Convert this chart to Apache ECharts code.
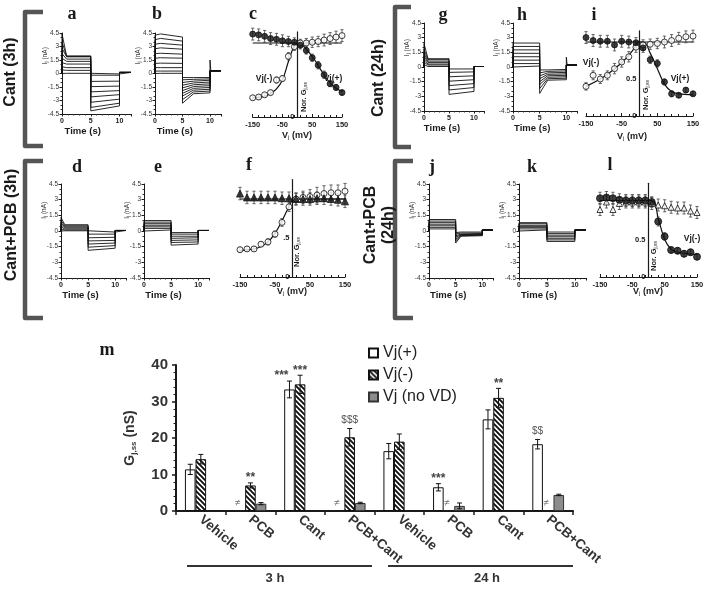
<!DOCTYPE html>
<html><head><meta charset="utf-8">
<script src="https://cdn.jsdelivr.net/npm/echarts@6/dist/echarts.min.js"></script>
<style>html,body{margin:0;padding:0;background:#fff}#c{width:708px;height:589px}</style>
</head><body><div id="c"></div>
<script>
// ================= DATA =================
// ---- panel m (bar chart) ----
const mCategories = ['Vehicle','PCB','Cant','PCB+Cant','Vehicle','PCB','Cant','PCB+Cant'];
const mGroups = ['3 h','24 h'];
const mVjPlus      = [11.4, null, 33.3, null, 16.4, 6.5, 25.1, 18.3];
const mVjPlusErr   = [1.4, 0, 2.3, 0, 2.1, 1.0, 2.6, 1.3];
const mVjPlusMark  = ['', '≠', '***', '≠', '', '***', '', '$$'];
const mVjMinus     = [14.2, 7.0, 34.7, 20.2, 19.0, null, 31.0, null];
const mVjMinusErr  = [1.3, 0.7, 2.5, 2.4, 2.1, 0, 2.6, 0];
const mVjMinusMark = ['', '**', '***', '$$$', '', '≠', '**', '≠'];
const mNoVD        = [null, 2.0, null, 2.2, null, 1.4, null, 4.4];
const mNoVDErr     = [0, 0.3, 0, 0.2, 0, 0.8, 0, 0.2];
const mNoVDMark    = ['', '', '', '', '', '', '', ''];

// ---- current traces (nA) ----
const aPeak = [4.4, 3.5, 2.8, 2.2, 1.7, 1.2, 0.75, 0.4, 0.05];
const aStep1 = [1.95, 1.9, 1.85, 1.6, 1.35, 1.05, 0.65, 0.35, 0.02];
const aStep2Start = [-4.15, -3.77, -3.2, -2.6, -2.04, -1.46, -0.88, -0.19, -0.05];
const aStep2End = [-3.6, -3.3, -2.85, -2.35, -1.9, -1.4, -0.85, -0.19, -0.05];
const aTail = 0.12;

const bStart = [4.25, 3.75, 3.25, 2.75, 2.2, 1.7, 1.12, 0.65, 0.27, 0.02];
const bPeak = [4.4, 3.9, 3.35, 2.85, 2.25, 1.75, 1.15, 0.65, 0.27, 0.02];
const bEnd = [4.05, 3.6, 3.15, 2.7, 2.15, 1.7, 1.12, 0.65, 0.27, 0.02];
const bStep2Start = [-3.3, -2.9, -2.5, -2.2, -1.9, -1.6, -1.3, -1.0, -0.7, -0.45];
const bStep2Mid = [-2.25, -2.05, -1.85, -1.65, -1.45, -1.25, -1.05, -0.85, -0.65, -0.45];
const bStep2End = [-2.15, -1.95, -1.75, -1.55, -1.35, -1.15, -0.95, -0.75, -0.6, -0.45];
const bTail = 0.3;
const bSpike = 1.5;

const dPeak = [1.3, 1.0, 0.8, 0.6, 0.4, 0.2, 0.05];
const dStep1 = [0.6, 0.5, 0.4, 0.3, 0.2, 0.1, 0.02];
const dStep2Start = [-1.85, -1.55, -1.25, -0.95, -0.65, -0.3, -0.1];
const dStep2End = [-1.65, -1.4, -1.15, -0.9, -0.6, -0.3, -0.1];
const dTail = 0.05;

const eStep1 = [1.0, 0.85, 0.7, 0.55, 0.4, 0.25, 0.1];
const eStep2 = [-1.35, -1.1, -0.9, -0.7, -0.5, -0.3, -0.15];
const eStep2End = [-1.25, -1.05, -0.85, -0.65, -0.5, -0.3, -0.15];
const eTail = 0.05;

const gPeak = [2.4, 1.8, 1.4, 1.1, 0.8, 0.5, 0.25];
const gStep1 = [0.85, 0.75, 0.6, 0.45, 0.3, 0.2, 0.05];
const gStep2Start = [-2.8, -2.35, -1.9, -1.45, -1.0, -0.55, -0.2];
const gStep2End = [-2.5, -2.1, -1.7, -1.3, -0.9, -0.5, -0.2];
const gTail = 0.05;

const hStep1 = [2.45, 2.1, 1.75, 1.4, 1.05, 0.7, 0.35, 0.1];
const hStep2Start = [-2.7, -2.2, -1.8, -1.5, -1.2, -0.9, -0.6, -0.3];
const hStep2Mid = [-1.35, -1.2, -1.05, -0.9, -0.75, -0.6, -0.45, -0.3];
const hStep2End = [-1.3, -1.15, -1.0, -0.85, -0.7, -0.55, -0.4, -0.25];
const hTail = 0.2;
const hSpike = 1.0;

const jStep1 = [1.1, 0.95, 0.8, 0.65, 0.5, 0.35, 0.2];
const jStep2Start = [-1.15, -0.95, -0.8, -0.6, -0.45, -0.3, -0.15];
const jStep2Mid = [-0.5, -0.45, -0.4, -0.35, -0.3, -0.2, -0.1];
const jStep2End = [-0.45, -0.4, -0.35, -0.3, -0.25, -0.2, -0.1];
const jTail = 0.1;

const kStep1 = [0.8, 0.7, 0.55, 0.45, 0.35, 0.2, 0.1];
const kStep2 = [-1.0, -0.85, -0.7, -0.55, -0.4, -0.25, -0.1];
const kTail = 0.1;

// ---- normalized conductance vs Vj ----
const vj = [-150,-130,-110,-90,-70,-50,-30,-10,10,30,50,70,90,110,130,150];
const cOpen   = [0.26,0.27,0.30,0.33,0.50,0.52,0.82,0.95,1.0,1.0,1.01,1.02,1.04,1.06,1.08,1.1];
const cOpenErr = [0.03,0.03,0.03,0.03,0.04,0.04,0.05,0.05,0.05,0.06,0.07,0.07,0.08,0.08,0.08,0.08];
const cFilled = [1.12,1.11,1.09,1.06,1.05,1.03,1.02,1.01,0.97,0.9,0.8,0.7,0.57,0.45,0.4,0.33];
const cFilledErr = [0.08,0.08,0.08,0.08,0.08,0.08,0.07,0.06,0.05,0.05,0.05,0.05,0.05,0.04,0.04,0.03];
const cOpenFitX = [-150,-110,-90,-70,-50,-30,-10,0,150];
const cOpenFitY = [0.26,0.28,0.32,0.38,0.5,0.75,0.97,1,1];
const cFilledFitX = [-150,0,20,40,60,80,100,120,150];
const cFilledFitY = [1,1,0.96,0.87,0.76,0.63,0.51,0.42,0.34];
const cTickVals = [0];
const cTickText = ['0'];

const iOpen   = [0.40,0.55,0.50,0.55,0.64,0.73,0.80,0.93,0.96,0.97,0.98,1.0,1.02,1.05,1.07,1.08];
const iOpenErr = [0.05,0.06,0.06,0.06,0.07,0.07,0.07,0.07,0.07,0.07,0.07,0.08,0.08,0.08,0.08,0.08];
const iFilled = [1.06,1.02,1.01,1.01,0.96,1.01,1.0,0.99,0.92,0.76,0.71,0.46,0.30,0.28,0.35,0.30];
const iFilledErr = [0.08,0.08,0.08,0.08,0.08,0.08,0.08,0.07,0.06,0.05,0.05,0.04,0.04,0.03,0.03,0.03];
const iOpenFitX = [-150,-100,-50,-20,0,150];
const iOpenFitY = [0.4,0.53,0.72,0.88,1,1];
const iFilledFitX = [-150,10,30,50,70,90,110,150];
const iFilledFitY = [1,1,0.85,0.64,0.43,0.33,0.3,0.29];
const iTickVals = [0, 0.5];
const iTickText = ['0', '0.5'];

const fOpen = [0.35,0.36,0.36,0.42,0.45,0.55,0.70,0.90,1.0,1.02,1.03,1.05,1.07,1.08,1.08,1.1];
const fOpenErr = [0.03,0.03,0.03,0.03,0.04,0.04,0.05,0.06,0.07,0.08,0.09,0.1,0.1,0.1,0.1,0.1];
const fTri = [1.07,1.02,1.02,1.02,1.02,1.02,1.01,1.01,1.0,1.0,1.0,1.01,1.01,1.0,0.99,0.97];
const fTriErr = [0.08,0.08,0.08,0.08,0.08,0.08,0.08,0.08,0.08,0.08,0.08,0.08,0.08,0.08,0.08,0.08];
const fOpenFitX = [-150,-110,-90,-70,-50,-30,-10,5,150];
const fOpenFitY = [0.34,0.36,0.39,0.45,0.56,0.72,0.9,1,1];
const fTriFitX = [-150,150];
const fTriFitY = [1,1];
const fTickVals = [0, 0.5];
const fTickText = ['0', '.5'];

const lFilled = [1.05,1.06,1.05,1.03,1.02,1.02,1.02,1.02,1.0,0.74,0.54,0.36,0.35,0.31,0.33,0.27];
const lFilledErr = [0.08,0.08,0.08,0.08,0.08,0.08,0.08,0.08,0.07,0.06,0.05,0.04,0.04,0.04,0.04,0.04];
const lTri = [0.9,1.0,0.9,0.98,1.0,1.0,1.0,1.0,0.98,0.96,0.95,0.93,0.92,0.92,0.88,0.86];
const lTriErr = [0.08,0.08,0.08,0.08,0.08,0.08,0.08,0.08,0.08,0.08,0.08,0.08,0.08,0.08,0.08,0.08];
const lFilledFitX = [-150,10,30,50,70,90,150];
const lFilledFitY = [1.02,1.02,0.78,0.5,0.37,0.33,0.3];
const lTickVals = [0, 0.5];
const lTickText = ['0', '0.5'];

// ================= BUILD =================
const FONT = '"Liberation Sans", Arial, sans-serif';
const SERIF = '"Liberation Serif", "Times New Roman", serif';
const INK = '#1a1a1a';

const grids = [], xAxes = [], yAxes = [], series = [], gfx = [];

function addGrid(rect, xo, yo) {
  const gi = grids.length;
  grids.push({left: rect[0], top: rect[1], width: rect[2], height: rect[3]});
  xAxes.push(Object.assign({gridIndex: gi}, xo));
  yAxes.push(Object.assign({gridIndex: gi}, yo));
  return gi;
}

function text(x, y, str, font, opts) {
  gfx.push(Object.assign({type: 'text', x: x, y: y, silent: true, z: 50,
    style: Object.assign({text: str, font: font, fill: INK, align: 'center', verticalAlign: 'middle'}, (opts && opts.style) || {})},
    opts && opts.rotation !== undefined ? {rotation: opts.rotation} : {}));
}

// ---- current panels ----
function currentAxes() {
  return [
    {type: 'value', min: 0, max: 12, interval: 5,
      axisLine: {show: true, onZero: false, lineStyle: {color: INK, width: 1}},
      axisTick: {show: true, length: 2.5, lineStyle: {color: INK}},
      minorTick: {show: true, splitNumber: 5, length: 1.5, lineStyle: {color: '#333'}},
      axisLabel: {fontSize: 7, fontWeight: 'bold', color: INK, fontFamily: FONT, margin: 4, showMaxLabel: false,
        formatter: v => (v > 11 ? '' : String(v))},
      splitLine: {show: false}},
    {type: 'value', min: -4.5, max: 4.5, interval: 1.5,
      axisLine: {show: true, onZero: false, lineStyle: {color: INK, width: 1}},
      axisTick: {show: true, length: 2.5, lineStyle: {color: INK}},
      minorTick: {show: true, splitNumber: 3, length: 1.5, lineStyle: {color: '#333'}},
      axisLabel: {fontSize: 6.5, color: '#333', fontFamily: FONT, margin: 3,
        formatter: v => String(Math.round(v * 10) / 10)},
      splitLine: {show: false}}
  ];
}
function buildTraces(times, cols) {
  let n = 0;
  cols.forEach(c => { if (Array.isArray(c)) n = Math.max(n, c.length); });
  const out = [];
  for (let k = 0; k < n; k++) out.push(times.map((t, j) => [t, Array.isArray(cols[j]) ? cols[j][k] : cols[j]]));
  return out;
}
function currentPanel(rect, traces, extra) {
  const ax = currentAxes();
  const gi = addGrid(rect, ax[0], ax[1]);
  traces.forEach(tr => series.push({type: 'line', xAxisIndex: gi, yAxisIndex: gi, data: tr, showSymbol: false,
    silent: true, lineStyle: {color: '#111', width: 0.9}, z: 2}));
  if (extra) series.push({type: 'line', xAxisIndex: gi, yAxisIndex: gi, data: extra, showSymbol: false,
    silent: true, lineStyle: {color: '#111', width: 0.9}, z: 2});
  gfx.push({type: 'text', x: rect[0] - 17, y: rect[1] + rect[3] * 0.28, rotation: Math.PI / 2, silent: true, z: 50,
    style: {text: '{a|I}{b|j}{a| (nA)}', align: 'center', verticalAlign: 'middle', fill: '#333',
      rich: {a: {fontSize: 6.5, fontFamily: FONT, fill: '#333'}, b: {fontSize: 5, fontFamily: FONT, fill: '#333', padding: [3, 0, 0, 0]}}}});
  text(rect[0] + rect[2] * 0.3, rect[1] + rect[3] + 17, 'Time (s)', 'bold 9.5px ' + FONT);
  return gi;
}

const R = {
  a: [62, 33, 69, 81], b: [155, 33, 66, 81], g: [424, 23, 60, 88], h: [513, 23, 64, 88],
  d: [61, 184, 65, 94], e: [144, 184, 65, 94], j: [429, 184, 64, 94], k: [519, 184, 67, 94],
  c: [252.7, 31.9, 89.3, 85.1], i: [586, 30.9, 107, 85.1], f: [240, 179.5, 105, 97.5], l: [600, 183.25, 97, 93.75],
  m: [176, 365, 397, 146]
};

currentPanel(R.a, buildTraces([0, 0, 0.8, 5, 5, 10, 10, 12], [0, aPeak, aStep1, aStep1, aStep2Start, aStep2End, aTail, aTail]));
currentPanel(R.b, buildTraces([0, 0, 1, 5, 5, 7, 10, 10, 12], [0, bStart, bPeak, bEnd, bStep2Start, bStep2Mid, bStep2End, bTail, bTail]),
  [[10, bTail], [10, bSpike], [10.15, bTail]]);
currentPanel(R.d, buildTraces([0, 0, 0.7, 5, 5, 10, 10, 12], [0, dPeak, dStep1, dStep1, dStep2Start, dStep2End, dTail, dTail]));
currentPanel(R.e, buildTraces([0, 0, 5, 5, 10, 10, 12], [0, eStep1, eStep1, eStep2, eStep2End, eTail, eTail]));
currentPanel(R.g, buildTraces([0, 0, 0.8, 5, 5, 10, 10, 12], [0, gPeak, gStep1, gStep1, gStep2Start, gStep2End, gTail, gTail]));
currentPanel(R.h, buildTraces([0, 0, 5, 5, 6.5, 10, 10, 12], [0, hStep1, hStep1, hStep2Start, hStep2Mid, hStep2End, hTail, hTail]),
  [[10, hTail], [10, hSpike], [10.15, hTail]]);
currentPanel(R.j, buildTraces([0, 0, 5, 5, 6, 10, 10, 12], [0, jStep1, jStep1, jStep2Start, jStep2Mid, jStep2End, jTail, jTail]));
currentPanel(R.k, buildTraces([0, 0, 5, 5, 10, 10, 12], [0, kStep1, kStep1, kStep2, kStep2, kTail, kTail]));

// ---- conductance panels ----
function errBars(gi, xs, ys, es) {
  return {type: 'custom', xAxisIndex: gi, yAxisIndex: gi, silent: true, z: 3,
    data: xs.map((x, i) => [x, ys[i], es[i]]),
    renderItem: (p, api) => {
      const x = api.value(0), y = api.value(1), e = api.value(2);
      const t = api.coord([x, y + e]), b = api.coord([x, y - e]);
      const st = {stroke: '#444', lineWidth: 0.8};
      return {type: 'group', children: [
        {type: 'line', shape: {x1: t[0], y1: t[1], x2: b[0], y2: b[1]}, style: st},
        {type: 'line', shape: {x1: t[0] - 1.6, y1: t[1], x2: t[0] + 1.6, y2: t[1]}, style: st},
        {type: 'line', shape: {x1: b[0] - 1.6, y1: b[1], x2: b[0] + 1.6, y2: b[1]}, style: st}
      ]};
    }};
}
function tickLabels(gi, vals, texts) {
  return {type: 'custom', xAxisIndex: gi, yAxisIndex: gi, silent: true, z: 5,
    data: vals.map(v => [0, v]),
    renderItem: (p, api) => {
      const pt = api.coord([api.value(0), api.value(1)]);
      return {type: 'text', x: pt[0] - 3, y: pt[1], style: {text: texts[p.dataIndex],
        font: 'bold 7.5px ' + FONT, fill: INK, align: 'right', verticalAlign: 'middle'}};
    }};
}
function condPanel(rect, ymax, tickVals, tickText, sets, fits) {
  const gi = addGrid(rect,
    {type: 'value', min: -150, max: 150, interval: 100,
      axisLine: {show: true, onZero: false, lineStyle: {color: INK, width: 1.2}},
      axisTick: {show: true, inside: true, length: 3, lineStyle: {color: INK}},
      minorTick: {show: true, splitNumber: 5, length: 2, lineStyle: {color: INK}},
      axisLabel: {fontSize: 7.5, fontWeight: 'bold', color: INK, fontFamily: FONT, margin: 4},
      splitLine: {show: false}},
    {type: 'value', min: 0, max: ymax, interval: 0.5,
      axisLine: {show: true, onZero: true, lineStyle: {color: INK, width: 1.2}},
      axisTick: {show: false},
      axisLabel: {show: false},
      splitLine: {show: false}});
  series.push(tickLabels(gi, tickVals, tickText));
  fits.forEach(f => series.push({type: 'line', xAxisIndex: gi, yAxisIndex: gi, silent: true, showSymbol: false,
    smooth: 0.35, data: f[0].map((x, i) => [x, f[1][i]]), lineStyle: {color: '#111', width: 1.2}, z: 2}));
  sets.forEach(s => {
    series.push(errBars(gi, vj, s.y, s.e));
    series.push({type: 'scatter', xAxisIndex: gi, yAxisIndex: gi, silent: true, z: 4,
      symbol: s.symbol, symbolSize: s.size || 6, data: vj.map((x, i) => [x, s.y[i]]),
      itemStyle: {color: s.fill, borderColor: '#111', borderWidth: 1}});
  });
  return gi;
}

condPanel(R.c, 1.15, cTickVals, cTickText,
  [{y: cOpen, e: cOpenErr, symbol: 'circle', fill: '#fff'}, {y: cFilled, e: cFilledErr, symbol: 'circle', fill: '#111'}],
  [[cOpenFitX, cOpenFitY], [cFilledFitX, cFilledFitY]]);
condPanel(R.i, 1.15, iTickVals, iTickText,
  [{y: iOpen, e: iOpenErr, symbol: 'circle', fill: '#fff'}, {y: iFilled, e: iFilledErr, symbol: 'circle', fill: '#111'}],
  [[iOpenFitX, iOpenFitY], [iFilledFitX, iFilledFitY]]);
condPanel(R.f, 1.25, fTickVals, fTickText,
  [{y: fOpen, e: fOpenErr, symbol: 'circle', fill: '#fff'}, {y: fTri, e: fTriErr, symbol: 'triangle', fill: '#111', size: 7}],
  [[fOpenFitX, fOpenFitY], [fTriFitX, fTriFitY]]);
condPanel(R.l, 1.25, lTickVals, lTickText,
  [{y: lTri, e: lTriErr, symbol: 'triangle', fill: '#fff', size: 6}, {y: lFilled, e: lFilledErr, symbol: 'circle', fill: '#111', size: 7}],
  [[lFilledFitX, lFilledFitY]]);

function norG(x, y) {
  gfx.push({type: 'text', x: x, y: y, rotation: Math.PI / 2, silent: true, z: 50,
    style: {text: '{a|Nor. G}{b|j,ss}', align: 'center', verticalAlign: 'middle',
      rich: {a: {fontSize: 7.5, fontWeight: 'bold', fontFamily: FONT, fill: INK},
             b: {fontSize: 5, fontFamily: FONT, fill: INK, padding: [3, 0, 0, 0]}}}});
}
function vjLabel(x, y) {
  gfx.push({type: 'text', x: x, y: y, silent: true, z: 50,
    style: {text: '{a|V}{b|j}{a| (mV)}', align: 'center', verticalAlign: 'middle',
      rich: {a: {fontSize: 9, fontWeight: 'bold', fontFamily: FONT, fill: INK},
             b: {fontSize: 6, fontFamily: FONT, fill: INK, padding: [3, 0, 0, 0]}}}});
}
norG(304, 97); norG(646, 95); norG(297, 252); norG(654, 256);
vjLabel(297, 136); vjLabel(632, 137); vjLabel(292, 292); vjLabel(648, 292);
text(264, 79, 'Vj(-)', 'bold 8.5px ' + FONT);
text(333, 79, 'Vj(+)', 'bold 8.5px ' + FONT);
text(591, 63, 'Vj(-)', 'bold 8.5px ' + FONT);
text(680, 79, 'Vj(+)', 'bold 8.5px ' + FONT);
text(692, 239, 'Vj(-)', 'bold 8.5px ' + FONT);

// ---- panel letters and row labels ----
[['a', 72, 14], ['b', 157, 14], ['c', 253, 14], ['g', 443, 15], ['h', 522, 15], ['i', 594, 15],
 ['d', 77, 167], ['e', 158, 167], ['f', 249, 165], ['j', 432, 167], ['k', 532, 167], ['l', 610, 165], ['m', 107, 350]]
  .forEach(t => text(t[1], t[2], t[0], 'bold 18px ' + SERIF));

function bracket(x, y1, y2, x2) {
  gfx.push({type: 'polyline', silent: true, z: 40,
    shape: {points: [[x2, y1], [x, y1], [x, y2], [x2, y2]]},
    style: {stroke: '#555', lineWidth: 4.5, fill: null, lineJoin: 'round'}});
}
bracket(25, 12, 146, 43); bracket(395, 7, 147, 411);
bracket(25, 161, 318, 43); bracket(395, 161, 318, 413);
const rowFont = 'bold 16px ' + FONT;
text(11, 72, 'Cant (3h)', rowFont, {rotation: Math.PI / 2});
text(379, 78, 'Cant (24h)', rowFont, {rotation: Math.PI / 2});
text(12, 225, 'Cant+PCB (3h)', rowFont, {rotation: Math.PI / 2});
text(371, 225, 'Cant+PCB', rowFont, {rotation: Math.PI / 2});
text(389, 225, '(24h)', rowFont, {rotation: Math.PI / 2});

// ---- panel m ----
const hatch = document.createElement('canvas');
hatch.width = 5; hatch.height = 5;
(function () {
  const c = hatch.getContext('2d');
  c.fillStyle = '#fff'; c.fillRect(0, 0, 5, 5);
  c.strokeStyle = '#111'; c.lineWidth = 1.9; c.beginPath();
  c.moveTo(-1, -1); c.lineTo(6, 6); c.moveTo(-1, 4); c.lineTo(1, 6); c.moveTo(4, -1); c.lineTo(6, 1);
  c.stroke();
})();

const M = addGrid(R.m,
  {type: 'category', data: mCategories, boundaryGap: true,
    axisLine: {show: true, lineStyle: {color: INK, width: 2}},
    axisTick: {show: true, alignWithLabel: false, length: 4, lineStyle: {color: INK, width: 1.5}},
    axisLabel: {interval: 0, rotate: -40, fontSize: 13.5, fontWeight: 'bold', color: '#333', fontFamily: FONT, margin: 7}},
  {type: 'value', min: 0, max: 40, interval: 10,
    name: '{a|G}{b|j,ss}{a| (nS)}', nameLocation: 'middle', nameGap: 38,
    nameTextStyle: {rich: {a: {fontSize: 14, fontWeight: 'bold', fontFamily: FONT, color: '#333'},
                           b: {fontSize: 8, fontWeight: 'bold', fontFamily: FONT, color: '#333', padding: [7, 0, 0, 0]}}},
    axisLine: {show: true, lineStyle: {color: INK, width: 2}},
    axisTick: {show: true, length: 4, lineStyle: {color: INK, width: 1.5}},
    minorTick: {show: true, splitNumber: 5, length: 2.5, lineStyle: {color: INK}},
    axisLabel: {fontSize: 15, fontWeight: 'bold', color: '#333', fontFamily: FONT, margin: 8},
    splitLine: {show: false}});

const barBase = {type: 'bar', xAxisIndex: M, yAxisIndex: M, barGap: '0%', barCategoryGap: '36%', z: 2, silent: true};
series.push(Object.assign({}, barBase, {name: 'Vj(+)', data: mVjPlus, itemStyle: {color: '#fff', borderColor: '#111', borderWidth: 1}}));
series.push(Object.assign({}, barBase, {name: 'Vj(-)', data: mVjMinus, itemStyle: {color: {image: hatch, repeat: 'repeat'}, borderColor: '#111', borderWidth: 1}}));
series.push(Object.assign({}, barBase, {name: 'Vj (no VD)', data: mNoVD, itemStyle: {color: '#8c8c8c', borderColor: '#333', borderWidth: 1}}));

function mAnnot(k, vals, errs, marks, other) {
  return {type: 'custom', xAxisIndex: M, yAxisIndex: M, z: 6, silent: true,
    data: vals.map((v, i) => [i, v == null ? 0 : v, errs[i]]),
    renderItem: (p, api) => {
      const i = api.value(0), v = api.value(1), e = api.value(2);
      const mk = marks[p.dataIndex];
      const base = api.coord([i, 0]);
      const bw = api.size([1, 0])[0] * 0.64 / 3;
      let x = base[0] + (k - 1) * bw;
      const ch = [];
      const st = {stroke: '#111', lineWidth: 1};
      const top = api.coord([i, v + e])[1];
      if (e > 0) {
        const bot = api.coord([i, v - e])[1];
        ch.push({type: 'line', shape: {x1: x, y1: top, x2: x, y2: bot}, style: st});
        ch.push({type: 'line', shape: {x1: x - 2.5, y1: top, x2: x + 2.5, y2: top}, style: st});
        ch.push({type: 'line', shape: {x1: x - 2.5, y1: bot, x2: x + 2.5, y2: bot}, style: st});
      }
      if (mk) {
        if (mk === '≠') {
          ch.push({type: 'text', x: x - 2, y: base[1] - 8, style: {text: '≠', font: 'italic 10px ' + FONT, fill: '#666', align: 'center', verticalAlign: 'middle'}});
        } else if (mk[0] === '*') {
          if (other && other[p.dataIndex] && other[p.dataIndex][0] === '*') x -= 8;
          ch.push({type: 'text', x: x, y: top - 5, style: {text: mk, font: 'bold 12px ' + FONT, fill: '#444', align: 'center', verticalAlign: 'middle'}});
        } else {
          ch.push({type: 'text', x: x, y: top - 8, style: {text: mk, font: '10px ' + FONT, fill: '#555', align: 'center', verticalAlign: 'middle'}});
        }
      }
      return {type: 'group', children: ch};
    }};
}
series.push(mAnnot(0, mVjPlus, mVjPlusErr, mVjPlusMark, mVjMinusMark));
series.push(mAnnot(1, mVjMinus, mVjMinusErr, mVjMinusMark, null));
series.push(mAnnot(2, mNoVD, mNoVDErr, mNoVDMark, null));

gfx.push({type: 'line', silent: true, shape: {x1: 187, y1: 566, x2: 372, y2: 566}, style: {stroke: '#333', lineWidth: 2}});
gfx.push({type: 'line', silent: true, shape: {x1: 388, y1: 566, x2: 573, y2: 566}, style: {stroke: '#333', lineWidth: 2}});
text(275, 578, mGroups[0], 'bold 13px ' + FONT, {style: {fill: '#333'}});
text(487, 578, mGroups[1], 'bold 13px ' + FONT, {style: {fill: '#333'}});

const chart = echarts.init(document.getElementById('c'), null, {renderer: 'canvas'});
chart.setOption({
  animation: false,
  backgroundColor: '#fff',
  grid: grids, xAxis: xAxes, yAxis: yAxes, series: series,
  legend: {data: ['Vj(+)', 'Vj(-)', 'Vj (no VD)'], orient: 'vertical', left: 363, top: 340,
    icon: 'rect', itemWidth: 9, itemHeight: 9, itemGap: 6, selectedMode: false,
    textStyle: {fontSize: 16, color: '#222', fontFamily: FONT}},
  graphic: {elements: gfx}
});
</script></body></html>
